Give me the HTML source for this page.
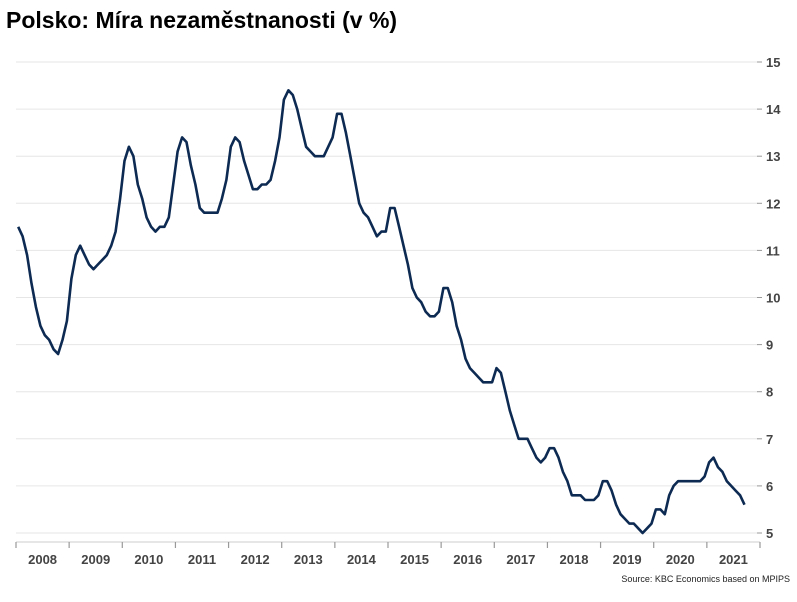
<!DOCTYPE html>
<html><head><meta charset="utf-8"><style>
body{margin:0;background:#fff;width:797px;height:597px;overflow:hidden;font-family:"Liberation Sans",sans-serif}
</style></head><body>
<svg id="chart" width="797" height="597" xmlns="http://www.w3.org/2000/svg">
<text x="6" y="28" font-size="23" font-weight="bold" fill="#000">Polsko: Míra nezaměstnanosti (v %)</text>
<g id="grid"></g><g id="xaxis"></g><g id="yaxis"></g>
<path id="line" fill="none" stroke="#0d2a52" stroke-width="2.6" stroke-linejoin="round"/>
<text x="790" y="582" font-size="9" fill="#222" text-anchor="end">Source: KBC Economics based on MPIPS</text>
</svg>
<script>
const years=[2008,2009,2010,2011,2012,2013,2014,2015,2016,2017,2018,2019,2020,2021];
const yTicks=[5,6,7,8,9,10,11,12,13,14,15];
const values=[
11.5,11.3,10.9,10.3,9.8,9.4,9.2,9.1,8.9,8.8,9.1,9.5,
10.4,10.9,11.1,10.9,10.7,10.6,10.7,10.8,10.9,11.1,11.4,12.1,
12.9,13.2,13.0,12.4,12.1,11.7,11.5,11.4,11.5,11.5,11.7,12.4,
13.1,13.4,13.3,12.8,12.4,11.9,11.8,11.8,11.8,11.8,12.1,12.5,
13.2,13.4,13.3,12.9,12.6,12.3,12.3,12.4,12.4,12.5,12.9,13.4,
14.2,14.4,14.3,14.0,13.6,13.2,13.1,13.0,13.0,13.0,13.2,13.4,
13.9,13.9,13.5,13.0,12.5,12.0,11.8,11.7,11.5,11.3,11.4,11.4,
11.9,11.9,11.5,11.1,10.7,10.2,10.0,9.9,9.7,9.6,9.6,9.7,
10.2,10.2,9.9,9.4,9.1,8.7,8.5,8.4,8.3,8.2,8.2,8.2,
8.5,8.4,8.0,7.6,7.3,7.0,7.0,7.0,6.8,6.6,6.5,6.6,
6.8,6.8,6.6,6.3,6.1,5.8,5.8,5.8,5.7,5.7,5.7,5.8,
6.1,6.1,5.9,5.6,5.4,5.3,5.2,5.2,5.1,5.0,5.1,5.2,
5.5,5.5,5.4,5.8,6.0,6.1,6.1,6.1,6.1,6.1,6.1,6.2,
6.5,6.6,6.4,6.3,6.1,6.0,5.9,5.8,5.6];
const NS="http://www.w3.org/2000/svg";
const x0=16,x1=760,yTop=62,yBot=533,vMin=5,vMax=15;
const mw=(x1-x0)/(years.length*12);
const X=i=>x0+(i+0.5)*mw;
const Y=v=>yBot-(v-vMin)/(vMax-vMin)*(yBot-yTop);
function mk(tag,attrs,parent){const e=document.createElementNS(NS,tag);for(const k in attrs)e.setAttribute(k,attrs[k]);parent.appendChild(e);return e;}
const grid=document.getElementById('grid'),ya=document.getElementById('yaxis'),xa=document.getElementById('xaxis');
yTicks.forEach(t=>{
 const g=mk('line',{x1:x0,x2:758,y1:Y(t),y2:Y(t),stroke:'#e6e6e6','stroke-width':1},grid);
 
 
 mk('line',{x1:757,x2:762,y1:Y(t),y2:Y(t),stroke:'#999','stroke-width':1},ya);
 const l=mk('text',{x:766,y:Y(t)+5,'font-size':13,'font-weight':'bold',fill:'#444'},ya);
 l.textContent=t;
 
 
});
mk('line',{x1:x0,x2:x1,y1:542,y2:542,stroke:'#ccc','stroke-width':1},xa);
for(let k=0;k<=years.length;k++){const xx=x0+k*12*mw;mk('line',{x1:xx,x2:xx,y1:542,y2:548,stroke:'#999','stroke-width':1.2},xa);}
years.forEach((yr,k)=>{
 const t=mk('text',{x:x0+(k+0.5)*12*mw,y:564,'font-size':13,'font-weight':'bold',fill:'#444','text-anchor':'middle'},xa);
 t.textContent=yr;
 
 
});
document.getElementById('line').setAttribute('d',values.map((v,i)=>(i?'L':'M')+X(i).toFixed(1)+' '+Y(v).toFixed(1)).join(' '));
</script>
</body></html>
